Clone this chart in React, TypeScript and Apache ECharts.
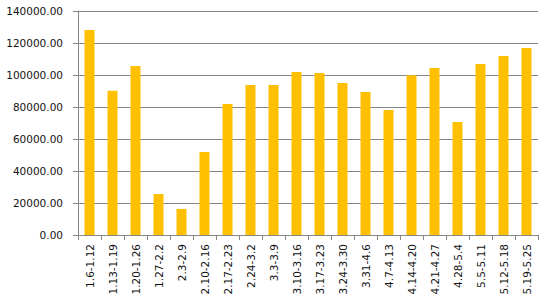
import React, { useEffect, useRef } from "react";
import * as echarts from "echarts";

const categories = [
  "1.6-1.12", "1.13-1.19", "1.20-1.26", "1.27-2.2", "2.3-2.9", "2.10-2.16",
  "2.17-2.23", "2.24-3.2", "3.3-3.9", "3.10-3.16", "3.17-3.23", "3.24-3.30",
  "3.31-4.6", "4.7-4.13", "4.14-4.20", "4.21-4.27", "4.28-5.4", "5.5-5.11",
  "5.12-5.18", "5.19-5.25",
];
const values = [
  128100, 90200, 105600, 25600, 16300, 51900,
  81900, 93800, 93800, 101900, 101300, 95000,
  89400, 78100, 99800, 104400, 70600, 106900,
  111900, 116900,
];

export default function App() {
  const ref = useRef<HTMLDivElement>(null);
  useEffect(() => {
    if (!ref.current) return;
    const chart = echarts.init(ref.current, undefined, { renderer: "svg" });
    const font = "DejaVu Sans";
    chart.setOption({
      animation: false,
      grid: { left: 78, right: 10, top: 11, bottom: 63 },
      xAxis: {
        type: "category",
        data: categories,
        axisLine: { show: true, lineStyle: { color: "#868686", width: 1 } },
        axisTick: { show: true, length: 5, lineStyle: { color: "#868686" } },
        axisLabel: {
          rotate: 90,
          interval: 0,
          margin: 9,
          fontFamily: font,
          fontSize: 10.5,
          color: "#111",
        },
      },
      yAxis: {
        type: "value",
        min: 0,
        max: 140000,
        interval: 20000,
        axisLine: { show: true, lineStyle: { color: "#868686", width: 1 } },
        axisTick: { show: true, length: 5, lineStyle: { color: "#868686" } },
        splitLine: { show: true, lineStyle: { color: "#868686", width: 1 } },
        axisLabel: {
          margin: 15,
          fontFamily: font,
          fontSize: 10.5,
          color: "#111",
          formatter: (v: number) => v.toFixed(2),
        },
      },
      series: [
        {
          type: "bar",
          data: values,
          barWidth: 10,
          itemStyle: { color: "#FFC000" },
        },
      ],
    });
    return () => chart.dispose();
  }, []);
  return <div ref={ref} style={{ width: 548, height: 298, position: "absolute", left: 0, top: 0 }} />;
}
